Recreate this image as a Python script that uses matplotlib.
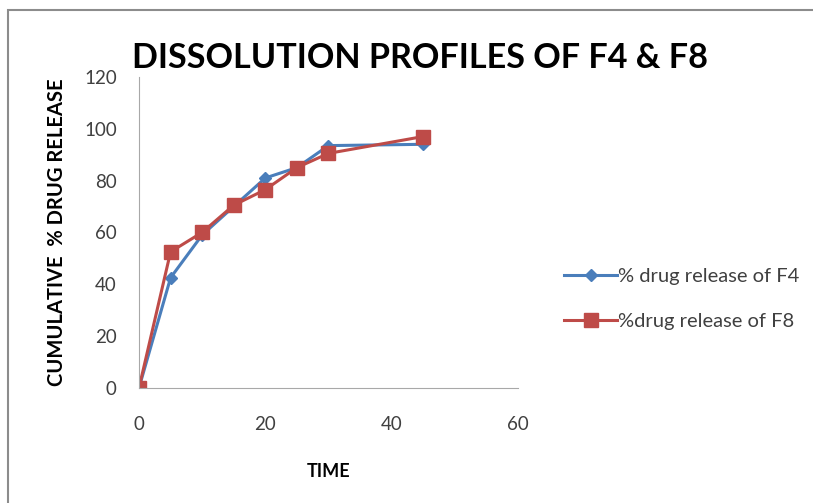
import matplotlib.pyplot as plt
from matplotlib.patches import Rectangle

temps = [0, 5, 10, 15, 20, 25, 30, 45]
rel_f4 = [0, 42.5, 59, 70, 81, 85, 93.5, 94]
rel_f8 = [0, 52.5, 60, 70.5, 76.5, 85, 90.5, 97]

plt.rcParams['font.family'] = ['Lato', 'DejaVu Sans']

fig = plt.figure(figsize=(8.13, 5.03), dpi=100)
# cadre gris autour du graphique
fig.patches.append(Rectangle((0.010, -0.01), 0.995, 0.99, transform=fig.transFigure,
                             fill=False, edgecolor='#8c8c8c', linewidth=1.5))

ax = fig.add_axes([0.171, 0.229, 0.466, 0.618])
ax.plot(temps, rel_f4, color='#4A7EBB', marker='D', markersize=6, linewidth=2.2,
        label='% drug release of F4')
ax.plot(temps, rel_f8, color='#BE4B48', marker='s', markersize=10, linewidth=2.2,
        label='%drug release of F8')

ax.set_xlim(0, 60)
ax.set_ylim(0, 120)
ax.set_xticks(range(0, 61, 20))
ax.set_yticks(range(0, 121, 20))
for s in ['top', 'right']:
    ax.spines[s].set_visible(False)
for s in ['left', 'bottom']:
    ax.spines[s].set_color('#a8a8a8')
ax.tick_params(length=0, labelcolor='#404040', labelsize=13.5)
ax.tick_params(axis='x', pad=20)
ax.tick_params(axis='y', pad=16)

ax.set_xlabel('TIME', fontsize=13, fontweight='bold', labelpad=22)
ax.set_ylabel('CUMULATIVE  % DRUG RELEASE', fontsize=14.5, fontweight='bold', labelpad=12)
fig.text(0.516, 0.885, 'DISSOLUTION PROFILES OF F4 & F8', ha='center', va='center',
         fontsize=24.6, fontweight='bold')

leg = fig.legend(loc='center left', bbox_to_anchor=(0.672, 0.405), frameon=False, fontsize=14.5,
                 labelspacing=1.4, handlelength=2.6, handletextpad=0.05)
for t in leg.get_texts():
    t.set_color('#404040')

plt.savefig('out.png', dpi=100)
